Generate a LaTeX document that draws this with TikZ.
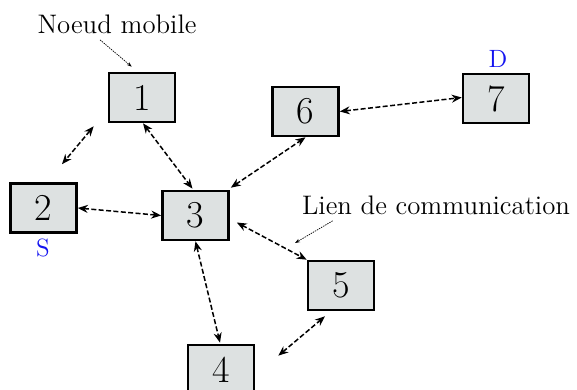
\documentclass[tikz,border=0pt]{standalone}
\usetikzlibrary{arrows.meta}

\definecolor{grisnoeud}{RGB}{221,225,225}
\definecolor{bleuetiq}{RGB}{20,20,240}

\tikzset{
  noeud/.style={draw, fill=grisnoeud, line width=1.3pt, minimum width=33pt,
                minimum height=24.5pt, inner sep=0pt, font=\fontsize{19}{21}\selectfont},
  lien/.style={line width=0.75pt, dash pattern=on 2.5pt off 1.2pt,
               {Stealth[length=5pt,width=4pt]}-{Stealth[length=5pt,width=4pt]}},
  renvoi/.style={line width=0.35pt, dash pattern=on 0.7pt off 0.5pt,
                 -{Stealth[length=2.5pt,width=1.8pt]}},
  etiq/.style={font=\fontsize{13.4}{16}\selectfont, inner sep=1pt},
  source/.style={text=bleuetiq, font=\fontsize{12.5}{14}\selectfont, inner sep=1pt}
}

\begin{document}
\begin{tikzpicture}[x=0.5pt, y=-0.5pt]
  \clip (0,0) rectangle (577,390);

  % les noeuds du reseau
  \node (n1) at (142, 97.5) [noeud] {1};
  \node (n2) at (43.5, 208) [noeud] {2};
  \node (n3) at (195.5, 215.5) [noeud] {3};
  \node (n4) at (221, 369.5) [noeud] {4};
  \node (n5) at (341, 285.5) [noeud] {5};
  \node (n6) at (305.5, 111.5) [noeud] {6};
  \node (n7) at (496, 98.5) [noeud] {7};

  % source et destination
  \node (s) at (43, 248) [source] {S};
  \node (d) at (498, 59) [source] {D};

  % liens de communication
  \draw[lien] ([shift={(-14,3)}]n1.south west) -- ([shift={(18.5,-18)}]n2.north);
  \draw[lien] ([shift={(1,0)}]n1.south) -- ([shift={(-3,-1)}]n3.north);
  \draw[lien] (n2.east) -- (n3.west);
  \draw[lien] ([shift={(1,-2)}]n3.north east) -- (n6.south);
  \draw[lien] (n6.east) -- ([shift={(0,-1)}]n7.west);
  \draw[lien] ([shift={(7,7)}]n3.east) -- (n5.north west);
  \draw[lien] (n3.south) -- ([shift={(-1,-1)}]n4.north);
  \draw[lien] ([shift={(23,12)}]n4.north east) -- ([shift={(-16,5)}]n5.south);

  % etiquettes
  \node (mobile) at (117, 24) [etiq] {Noeud mobile};
  \node (comm) at (436, 205) [etiq] {Lien de communication};
  \coordinate (pointe) at (295, 243);

  % renvois vers les etiquettes
  \draw[renvoi] ([shift={(-17,4)}]mobile.south) -- ([shift={(24,-5)}]n1.north west);
  \draw[renvoi] ([shift={(33,4)}]comm.south west) -- (pointe);

\end{tikzpicture}
\end{document}
